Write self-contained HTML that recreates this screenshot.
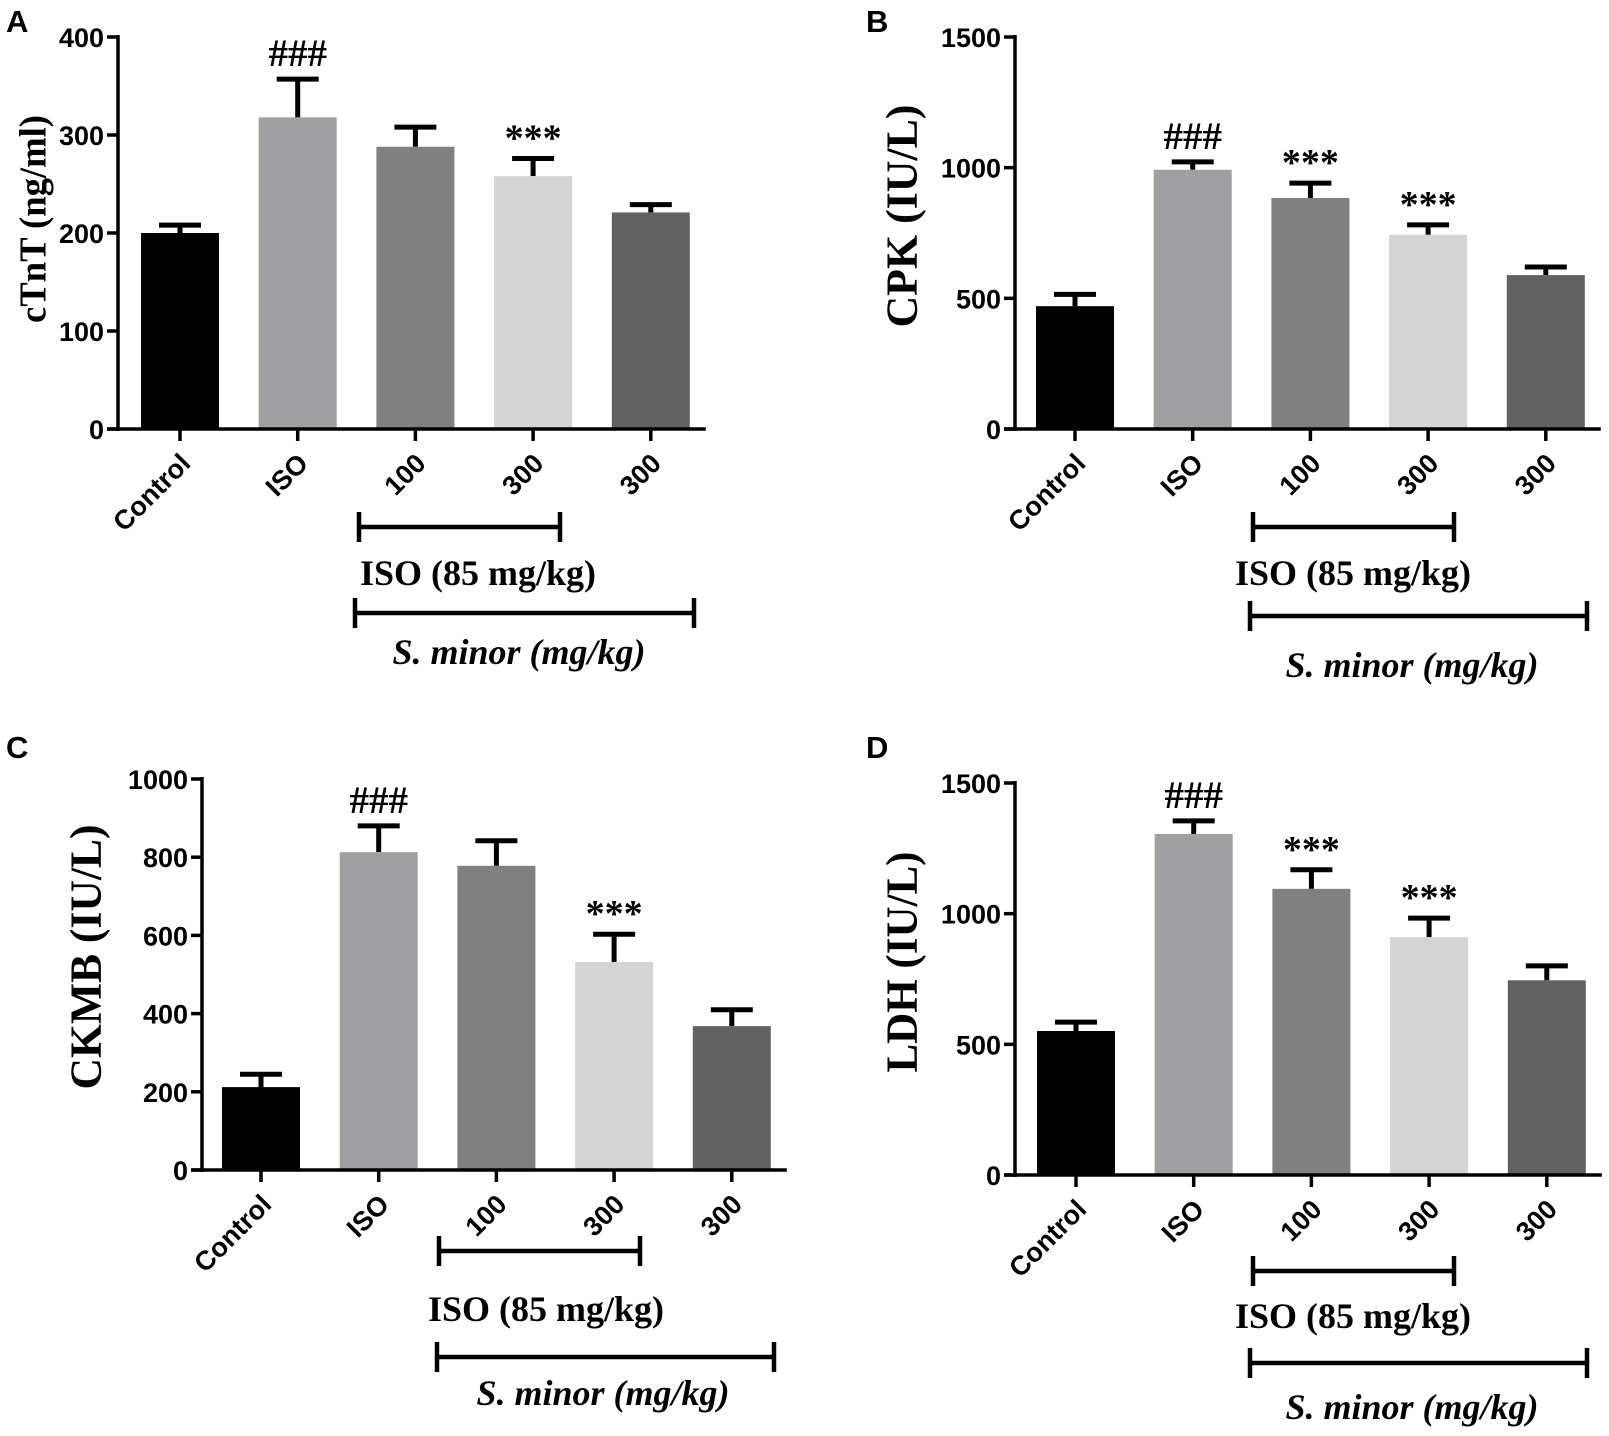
<!DOCTYPE html>
<html><head><meta charset="utf-8">
<style>
html,body{margin:0;padding:0;background:#fff;}
svg{display:block;}
.tick{font-family:"Liberation Sans",Arial,sans-serif;font-weight:bold;font-size:27px;}
.ser{font-family:"Liberation Serif","Times New Roman",serif;font-weight:bold;}
</style></head>
<body>
<svg id="chart" width="1609" height="1436" viewBox="0 0 1609 1436" xmlns="http://www.w3.org/2000/svg"></svg>
<script>
const categories = ["Control","ISO","100","300","300"];
const colors = ["#000000","#a0a0a2","#808080","#d4d4d4","#626262"];
const valuesA = [200, 318, 288, 258, 221];
const errorsA = [208, 357, 308, 276, 229];
const valuesB = [470, 992, 884, 743, 589];
const errorsB = [515, 1022, 941, 781, 620];
const valuesC = [212, 813, 778, 532, 368];
const errorsC = [245, 880, 842, 603, 410];
const valuesD = [551, 1305, 1095, 910, 745];
const errorsD = [585, 1355, 1168, 983, 800];
const ticksA = [0,100,200,300,400];
const ticksB = [0,500,1000,1500];
const ticksC = [0,200,400,600,800,1000];
const ticksD = [0,500,1000,1500];
const marksA = ["","###","","***",""];
const marksB = ["","###","***","***",""];
const marksC = ["","###","","***",""];
const marksD = ["","###","***","***",""];

const NS="http://www.w3.org/2000/svg";
const svg=document.getElementById('chart');
function mk(tag,attrs,parent,text){const e=document.createElementNS(NS,tag);for(const k in attrs)e.setAttribute(k,attrs[k]);if(text!==undefined)e.textContent=text;(parent||svg).appendChild(e);return e;}

const panels=[
 {id:'a',letter:'A',lx:6,ly:32,ax:118,top:37,bot:429,max:400,ticks:ticksA,vals:valuesA,errs:errorsA,marks:marksA,x0:141,
  ylabel:'cTnT (ng/ml)',yfs:38,ylen:208,ycx:33,ycy:219,
  isoB:[359,560,527],isoT:[478,573],smB:[355,694,613],smT:[519,652]},
 {id:'b',letter:'B',lx:866,ly:32,ax:1015,top:37,bot:429,max:1500,ticks:ticksB,vals:valuesB,errs:errorsB,marks:marksB,x0:1036,
  ylabel:'CPK (IU/L)',yfs:44,ylen:223,ycx:902,ycy:216,
  isoB:[1253,1454,527],isoT:[1353,573],smB:[1250,1587,616],smT:[1412,665]},
 {id:'c',letter:'C',lx:6,ly:758,ax:202,top:779,bot:1170,max:1000,ticks:ticksC,vals:valuesC,errs:errorsC,marks:marksC,x0:222,
  ylabel:'CKMB (IU/L)',yfs:44,ylen:265,ycx:86,ycy:957,
  isoB:[439,640,1251],isoT:[546,1309],smB:[437,774,1357],smT:[603,1393]},
 {id:'d',letter:'D',lx:866,ly:758,ax:1015,top:783,bot:1175,max:1500,ticks:ticksD,vals:valuesD,errs:errorsD,marks:marksD,x0:1037,
  ylabel:'LDH (IU/L)',yfs:44,ylen:221,ycx:902,ycy:962,
  isoB:[1253,1454,1271],isoT:[1353,1316],smB:[1250,1587,1363],smT:[1412,1407]}
];
const pitch=117.7, bw=78;

panels.forEach(p=>{
  const g=mk('g',{});
  
  
  const y=v=>p.bot-(v/p.max)*(p.bot-p.top);
  const cx=i=>p.x0+bw/2+i*pitch;
  const L=mk('text',{x:p.lx,y:p.ly,'font-family':'Liberation Sans,Arial,sans-serif','font-weight':'bold','font-size':31},g,p.letter);
  
  
  const right=p.x0+4*pitch+bw+16;
  p.ticks.forEach(t=>{
    mk('line',{x1:p.ax-11,y1:y(t),x2:p.ax,y2:y(t),stroke:'#000','stroke-width':3.5},g);
    const tt=mk('text',{x:p.ax-14,y:y(t)+10,'text-anchor':'end',class:'tick'},g,t);
    
    
  });
  const yl=mk('text',{x:0,y:0,'text-anchor':'middle',class:'ser','font-size':p.yfs,textLength:p.ylen,lengthAdjust:'spacingAndGlyphs',transform:`translate(${p.ycx+p.yfs*0.33},${p.ycy}) rotate(-90)`},g,p.ylabel);
  
  
  categories.forEach((c,i)=>{
    const x=cx(i);
    const ey=y(p.errs[i]), by=y(p.vals[i]);
    mk('line',{x1:x,y1:by,x2:x,y2:ey,stroke:'#000','stroke-width':5},g);
    mk('line',{x1:x-21,y1:ey,x2:x+21,y2:ey,stroke:'#000','stroke-width':5},g);
    const r=mk('rect',{x:x-bw/2,y:by,width:bw,height:p.bot-by,fill:colors[i]},g);
    
    
    mk('line',{x1:x,y1:p.bot,x2:x,y2:p.bot+12,stroke:'#000','stroke-width':3.5},g);
    const xl=mk('text',{x:0,y:0,'text-anchor':'end',class:'tick',transform:`translate(${x+12},${p.bot+36}) rotate(-45)`},g,c);
    
    
    if(p.marks[i]){
      const isHash=p.marks[i][0]==='#';
      const m=mk('text',{x:x,y:isHash?ey-13:ey-8,'text-anchor':'middle',class:'ser','font-size':isHash?39:38,'font-weight':'normal'},g,p.marks[i]);
      
      
    }
  });
  mk('line',{x1:p.ax,y1:p.top-2,x2:p.ax,y2:p.bot+2,stroke:'#000','stroke-width':3.5},g);
  mk('line',{x1:p.ax-11,y1:p.bot,x2:right,y2:p.bot,stroke:'#000','stroke-width':3.5},g);
  [[p.isoB,p.isoT,'ISO (85 mg/kg)','normal','iso-bracket'],[p.smB,p.smT,'S. minor (mg/kg)','italic','s-minor-bracket']].forEach(([b,tp,txt,st,nm])=>{
    mk('line',{x1:b[0],y1:b[2],x2:b[1],y2:b[2],stroke:'#000','stroke-width':4.5},g);
    mk('line',{x1:b[0],y1:b[2]-15,x2:b[0],y2:b[2]+15,stroke:'#000','stroke-width':4.5},g);
    mk('line',{x1:b[1],y1:b[2]-15,x2:b[1],y2:b[2]+15,stroke:'#000','stroke-width':4.5},g);
    const t=mk('text',{x:tp[0],y:tp[1]+12,'text-anchor':'middle',class:'ser','font-size':36,'font-style':st},g,txt);
    
    
  });
});
</script>
</body></html>
